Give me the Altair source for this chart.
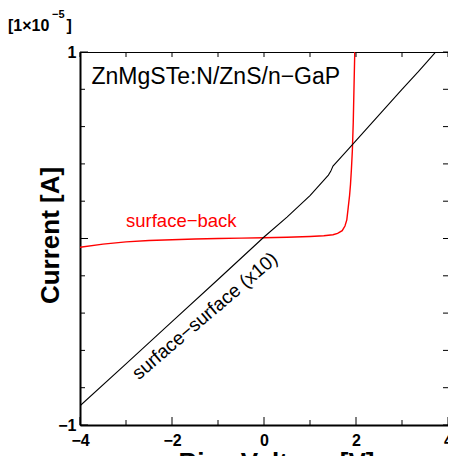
import altair as alt
import pandas as pd

# surface-back (red)
sb_x = [-4.0, -3.5, -3.0, -2.5, -2.0, -1.5, -1.0, -0.5, 0.0, 0.5, 1.0, 1.3, 1.5, 1.6, 1.7,
        1.76, 1.8, 1.83, 1.86, 1.88, 1.9, 1.92, 1.94, 1.96, 1.975]
sb_y = [-0.047, -0.03, -0.018, -0.011, -0.007, -0.003, 0.0, 0.002, 0.004, 0.007, 0.011,
        0.015, 0.02, 0.027, 0.042, 0.067, 0.1, 0.164, 0.23, 0.289, 0.37, 0.467, 0.62, 0.85, 1.02]

# surface-surface x10 (black)
ss_x = [-4.0, -3.0, -2.0, -1.0, 0.0, 0.5, 1.0, 1.2, 1.4, 1.45, 1.5, 1.8, 2.2, 2.6, 3.0,
        3.3, 3.35, 3.5, 3.75]
ss_y = [-0.897, -0.672, -0.446, -0.22, 0.008, 0.115, 0.23, 0.285, 0.34, 0.36, 0.388, 0.47,
        0.58, 0.69, 0.80, 0.88, 0.893, 0.935, 1.005]

x_major = [-4, -2, 0, 2, 4]
x_minor = [-3, -1, 1, 3]
x_all = [-4, -3, -2, -1, 0, 1, 2, 3, 4]
y_major = [-1, 0, 1]
y_minor = [-0.8, -0.6, -0.4, -0.2, 0.2, 0.4, 0.6, 0.8]
y_all = [-1, -0.8, -0.6, -0.4, -0.2, 0, 0.2, 0.4, 0.6, 0.8, 1]

sample_label = "ZnMgSTe:N/ZnS/n\u2212GaP"
sb_label = "surface\u2212back"
ss_label = "surface\u2212surface (x10)"

W, H = 368, 373
FONT = "Liberation Sans"

xs = alt.Scale(domain=[-4, 4], nice=False, zero=False)
ys = alt.Scale(domain=[-1, 1], nice=False, zero=False)
x_axis = alt.Axis(values=x_major, format="d", title="Bias Voltage [V]", titleX=196, titleY=45,
                  titleAlign="center", titleBaseline="alphabetic", labelPadding=7,
                  labelBaseline="top", grid=False, ticks=False)
y_axis = alt.Axis(values=y_major, format="d", title="Current [A]", titleX=-22, titleY=183,
                  titleAngle=270, titleAlign="center", titleBaseline="alphabetic",
                  labelPadding=4, grid=False, ticks=False)


def X(field):
    return alt.X(field, scale=xs, axis=x_axis, title="Bias Voltage [V]")


def Y(field):
    return alt.Y(field, scale=ys, axis=y_axis, title="Current [A]")


df_sb = pd.DataFrame({"x": sb_x, "y": sb_y})
df_ss = pd.DataFrame({"x": ss_x, "y": ss_y})

red = alt.Chart(df_sb).mark_line(color="#ff0000", strokeWidth=1.4, clip=True).encode(
    x=X("x:Q"), y=Y("y:Q"))
black = alt.Chart(df_ss).mark_line(color="black", strokeWidth=1.1, clip=True).encode(
    x=X("x:Q"), y=Y("y:Q"))


def vrules(vals, y0, y1):
    return alt.Chart(pd.DataFrame({"v": vals})).mark_rule(color="black", strokeWidth=1).encode(
        x=X("v:Q"), y=alt.value(y0), y2=alt.value(y1))


def hrules(vals, x0, x1):
    return alt.Chart(pd.DataFrame({"v": vals})).mark_rule(color="black", strokeWidth=1).encode(
        y=Y("v:Q"), x=alt.value(x0), x2=alt.value(x1))


ticks = [
    vrules(x_major, H, H - 8),
    vrules(x_minor, H, H - 5),
    vrules(x_all, 0, 5),
    hrules(y_major, 0, 8),
    hrules(y_minor, 0, 5),
    hrules(y_all, W, W - 5),
]


def label(xv, yv, txt, **kw):
    return alt.Chart(pd.DataFrame({"x": [xv], "y": [yv], "t": [txt]})).mark_text(
        font=FONT, baseline="alphabetic", **kw).encode(x=X("x:Q"), y=Y("y:Q"), text="t:N")


t_sample = label(-3.75, 0.828, sample_label, fontSize=23, align="left", color="black")
t_sb = label(-3.0, 0.063, sb_label, fontSize=18.5, align="left", color="#ff0000")
t_ss = label(-1.2, -0.44, ss_label, fontSize=19, align="center", angle=319.5, color="black")


def unit_text(txt, px, py, size):
    return alt.Chart(pd.DataFrame({"t": [txt]})).mark_text(
        font=FONT, fontSize=size, fontWeight="bold", align="left", baseline="alphabetic",
        color="black").encode(x=alt.value(px), y=alt.value(py), text="t:N")


unit_main = unit_text("[1\u00d710", -72, -21, 16)
unit_sup = unit_text("\u22125", -28, -34, 11)
unit_end = unit_text("]", -13.5, -21, 16)

chart = alt.layer(red, black, *ticks, t_sample, t_sb, t_ss, unit_main, unit_sup, unit_end).properties(
    width=W, height=H,
    autosize=alt.AutoSizeParams(type="none"),
    padding={"left": 72, "top": 44, "right": 0, "bottom": 31},
).configure(background="white").configure_view(stroke="black", strokeWidth=1).configure_axis(
    labelFont=FONT, labelFontSize=16, labelFontWeight="bold", labelColor="black",
    titleFont=FONT, titleFontSize=26, titleFontWeight="bold", titleColor="black",
    domainColor="black", domainWidth=2, ticks=False, grid=False, labelFlush=False,
)

chart.save("out.html", embed_options={"renderer": "svg", "actions": False})
